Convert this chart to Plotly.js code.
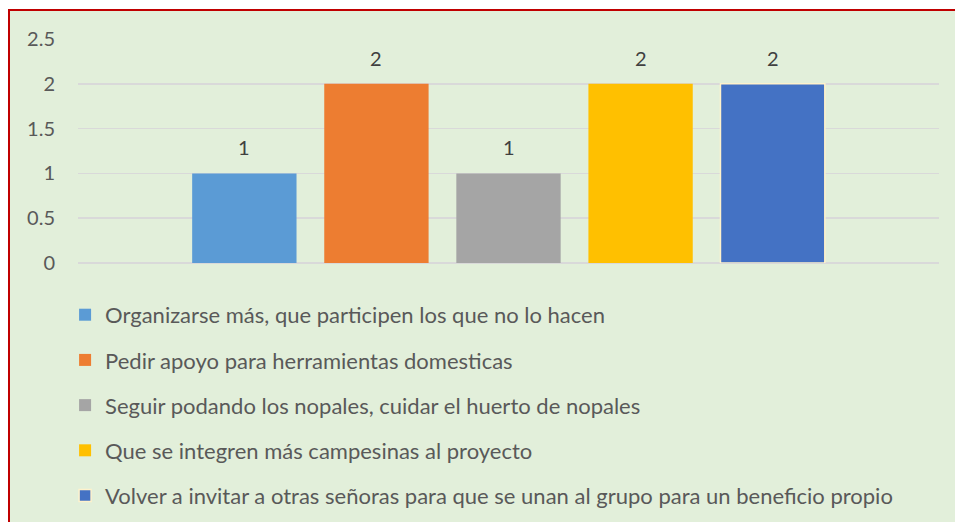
<!DOCTYPE html>
<html>
<head>
<meta charset="utf-8">
<script src="https://cdn.plot.ly/plotly-3.0.1.min.js"></script>
<style>
  html, body { margin: 0; padding: 0; background: #ffffff; width: 955px; height: 522px; overflow: hidden; }
  #bg { position: absolute; left: 8px; top: 9px; width: 960px; height: 530px; background: #E2EFDA; border: 2px solid #C00000; box-sizing: border-box; }
  #chart { position: absolute; left: 0; top: 0; width: 955px; height: 522px; }
</style>
</head>
<body>
<div id="bg"></div>
<div id="chart"></div>
<script>
const seriesNames = [
  "Organizarse más, que participen los que no lo hacen",
  "Pedir apoyo para herramientas domesticas",
  "Seguir podando los nopales, cuidar el huerto de nopales",
  "Que se integren más campesinas al proyecto",
  "Volver a invitar a otras señoras para que se unan al grupo para un beneficio propio"
];
const seriesValues = [1, 2, 1, 2, 2];
const category = [""];
const yTickVals = [0, 0.5, 1, 1.5, 2, 2.5];
const yTickText = ["0", "0.5", "1", "1.5", "2", "2.5"];
const colors = ["#5B9BD5", "#ED7D31", "#A5A5A5", "#FFC000", "#4472C4"];
const lineColors = ["rgba(0,0,0,0)", "rgba(0,0,0,0)", "rgba(0,0,0,0)", "rgba(0,0,0,0)", "#FFF2CC"];
const lineWidths = [0, 0, 0, 0, 1.5];

const BARGAP = 0.233;
const n = seriesNames.length;

const traces = seriesNames.map((name, i) => ({
  type: "bar",
  name: name,
  x: category,
  y: [seriesValues[i]],
  marker: { color: colors[i], line: { color: lineColors[i], width: lineWidths[i] } },
  legendgroup: "g" + i,
  hoverinfo: "none"
}));

// data labels placed over each grouped bar, using the bar layout offsets
const slot = (1 - BARGAP) / n;
const annotations = seriesValues.map((v, i) => ({
  xref: "x",
  yref: "y",
  x: -(1 - BARGAP) / 2 + slot * (i + 0.5),
  y: v,
  text: String(v),
  showarrow: false,
  yanchor: "bottom",
  yshift: 12,
  font: { family: "Lato, sans-serif", size: 20, color: "#404040" }
}));

const layout = {
  width: 955,
  height: 522,
  paper_bgcolor: "rgba(0,0,0,0)",
  plot_bgcolor: "rgba(0,0,0,0)",
  margin: { l: 78, r: 16, t: 39, b: 259, pad: 0, autoexpand: false },
  barmode: "group",
  bargap: BARGAP,
  bargroupgap: 0.21,
  showlegend: true,
  annotations: annotations,
  font: { family: "Lato, sans-serif", color: "#595959", size: 18 },
  xaxis: { showticklabels: false, showgrid: false, zeroline: false, showline: false, ticks: "", range: [-0.5, 0.5] },
  yaxis: {
    range: [0, 2.5],
    tickvals: yTickVals,
    ticktext: yTickText,
    showgrid: true,
    gridcolor: "#D9D9D9",
    gridwidth: 1.5,
    zeroline: true,
    zerolinecolor: "#D9D9D9",
    zerolinewidth: 1.5,
    showline: false,
    ticks: "",
    ticklabelstandoff: 22,
    tickfont: { family: "Lato, sans-serif", size: 20, color: "#595959" }
  },
  legend: {
    orientation: "v",
    x: -0.015,
    xanchor: "left",
    y: -0.138,
    yanchor: "top",
    traceorder: "grouped",
    tracegroupgap: 13.6,
    bgcolor: "rgba(0,0,0,0)",
    font: { family: "Lato, sans-serif", size: 22, color: "#595959" }
  }
};

Plotly.newPlot("chart", traces, layout, { staticPlot: true, displayModeBar: false });
</script>
</body>
</html>
